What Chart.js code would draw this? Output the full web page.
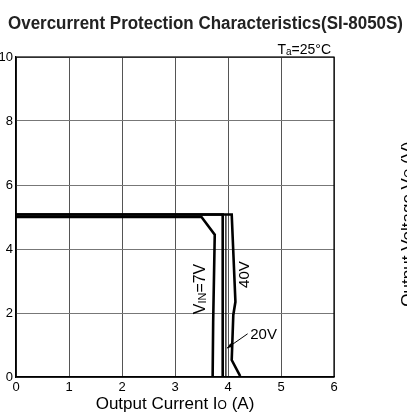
<!DOCTYPE html>
<html lang="en">
<head>
    <meta charset="UTF-8">
    <title>Overcurrent Protection Characteristics</title>
    <script src="https://cdn.jsdelivr.net/npm/chart.js"></script>
    <style>
        body { margin: 0; background: #fff; }
        #wrap { width: 407px; height: 418px; }
    </style>
</head>
<body>
    <div id="wrap"><canvas id="myChart" width="407" height="418"></canvas></div>
<script>
    // tick labels
    var xTickValues = [0, 1, 2, 3, 4, 5, 6];
    var yTickValues = [0, 2, 4, 6, 8, 10];

    // VIN = 7V
    var vin7Current = [0, 3.5, 3.75, 3.72, 3.71];
    var vin7Voltage = [5.0, 5.0, 4.45, 1.7, 0];

    // VIN = 20V
    var vin20Current = [0, 3.9, 3.9];
    var vin20Voltage = [5.08, 5.08, 0];

    // thin trace next to 20V
    var thinCurrent = [3.96, 3.96];
    var thinVoltage = [5.08, 0];

    // VIN = 40V
    var vin40Current = [0, 4.07, 4.14, 4.1, 4.08, 4.07, 4.23];
    var vin40Voltage = [5.08, 5.08, 2.35, 1.94, 1.0, 0.53, 0.03];

    function pontos(xs, ys) {
        var lista = [];
        for (var i = 0; i < xs.length; i++) {
            lista.push({ x: xs[i], y: ys[i] });
        }
        return lista;
    }

    function serie(nome, xs, ys, largura) {
        return {
            label: nome,
            data: pontos(xs, ys),
            borderColor: '#000',
            borderWidth: largura,
            pointRadius: 0,
            tension: 0,
            fill: false
        };
    }

    var FONTE = '"Liberation Sans", Arial, sans-serif';

    // text with a smaller "subscript" part
    function textoComIndice(ctx, partes, x, y, alinhar) {
        var total = 0;
        partes.forEach(function (p) {
            ctx.font = p.size + 'px ' + FONTE;
            p.w = ctx.measureText(p.t).width;
            total += p.w;
        });
        var inicio = x;
        if (alinhar == 'center') inicio = x - total / 2;
        if (alinhar == 'right') inicio = x - total;
        ctx.textAlign = 'left';
        partes.forEach(function (p) {
            ctx.font = p.size + 'px ' + FONTE;
            ctx.fillText(p.t, inicio, y + (p.dy || 0));
            inicio += p.w;
        });
    }

    var extras = {
        id: 'extras',
        afterDraw: function (chart) {
            var ctx = chart.ctx;
            var a = chart.chartArea;
            var sx = chart.scales.x;
            var sy = chart.scales.y;
            ctx.save();
            ctx.fillStyle = '#000';
            ctx.textBaseline = 'alphabetic';

            // frame
            ctx.strokeStyle = '#000';
            ctx.lineWidth = 1.2;
            ctx.strokeRect(a.left, a.top, a.right - a.left, a.bottom - a.top);

            // title
            ctx.font = 'bold 18px ' + FONTE;
            var titulo = 'Overcurrent Protection Characteristics(SI-8050S)';
            var w = ctx.measureText(titulo).width;
            ctx.save();
            ctx.translate(8, 29);
            ctx.scale(395 / w, 1);
            ctx.textAlign = 'left';
            ctx.fillStyle = '#222';
            ctx.fillText(titulo, 0, 0);
            ctx.restore();

            // Ta=25°C
            textoComIndice(ctx, [
                { t: 'T', size: 14 },
                { t: 'a', size: 10, dy: 1 },
                { t: '=25°C', size: 14 }
            ], 331, 54, 'right');

            // x axis title
            textoComIndice(ctx, [
                { t: 'Output Current I', size: 17 },
                { t: 'O', size: 12 },
                { t: ' (A)', size: 17 }
            ], (a.left + a.right) / 2, 409, 'center');

            // y axis title (right side, clipped by the canvas edge)
            ctx.save();
            ctx.translate(413, 224);
            ctx.rotate(-Math.PI / 2);
            textoComIndice(ctx, [
                { t: 'Output Voltage V', size: 17 },
                { t: 'O', size: 12 },
                { t: ' (V)', size: 17 }
            ], 0, 0, 'center');
            ctx.restore();

            // VIN=7V
            ctx.save();
            ctx.translate(sx.getPixelForValue(3.56), sy.getPixelForValue(2.75));
            ctx.rotate(-Math.PI / 2);
            textoComIndice(ctx, [
                { t: 'V', size: 16 },
                { t: 'IN', size: 11, dy: 1 },
                { t: '=7V', size: 16 }
            ], 0, 0, 'center');
            ctx.restore();

            // 40V
            ctx.save();
            ctx.translate(sx.getPixelForValue(4.39), sy.getPixelForValue(3.2));
            ctx.rotate(-Math.PI / 2);
            textoComIndice(ctx, [{ t: '40V', size: 15 }], 0, 0, 'center');
            ctx.restore();

            // 20V with arrow
            textoComIndice(ctx, [{ t: '20V', size: 15 }], sx.getPixelForValue(4.42), sy.getPixelForValue(1.2), 'left');
            var x1 = sx.getPixelForValue(4.37), y1 = sy.getPixelForValue(1.35);
            var x2 = sx.getPixelForValue(3.98), y2 = sy.getPixelForValue(0.9);
            ctx.strokeStyle = '#000';
            ctx.lineWidth = 1;
            ctx.beginPath();
            ctx.moveTo(x1, y1);
            ctx.lineTo(x2, y2);
            ctx.stroke();
            var ang = Math.atan2(y2 - y1, x2 - x1);
            ctx.beginPath();
            ctx.moveTo(x2, y2);
            ctx.lineTo(x2 - 6 * Math.cos(ang - 0.35), y2 - 6 * Math.sin(ang - 0.35));
            ctx.lineTo(x2 - 6 * Math.cos(ang + 0.35), y2 - 6 * Math.sin(ang + 0.35));
            ctx.closePath();
            ctx.fill();

            ctx.restore();
        }
    };

    Chart.defaults.font.family = FONTE;
    Chart.defaults.color = '#000';

    var config = {
        type: 'line',
        data: {
            datasets: [
                serie('VIN=7V', vin7Current, vin7Voltage, 2.6),
                serie('20V', vin20Current, vin20Voltage, 2.6),
                serie('', thinCurrent, thinVoltage, 1.2),
                serie('40V', vin40Current, vin40Voltage, 2.6)
            ]
        },
        options: {
            responsive: false,
            animation: false,
            layout: { padding: { top: 57, right: 73, left: 0, bottom: 0 } },
            plugins: {
                legend: { display: false },
                title: { display: false },
                tooltip: { enabled: false }
            },
            scales: {
                x: {
                    type: 'linear',
                    min: 0,
                    max: 6,
                    afterBuildTicks: function (s) {
                        s.ticks = xTickValues.map(function (v) { return { value: v }; });
                    },
                    afterFit: function (s) { s.height = 41; },
                    ticks: { font: { size: 13 }, padding: 3, maxRotation: 0 },
                    grid: { color: '#555', lineWidth: 1, drawTicks: false },
                    border: { color: '#000', width: 1.2 }
                },
                y: {
                    type: 'linear',
                    min: 0,
                    max: 10,
                    afterBuildTicks: function (s) {
                        s.ticks = yTickValues.map(function (v) { return { value: v }; });
                    },
                    afterFit: function (s) { s.width = 16; },
                    ticks: { font: { size: 13 }, padding: 3 },
                    grid: { color: '#777', lineWidth: 1, drawTicks: false },
                    border: { color: '#000', width: 1.2 }
                }
            }
        },
        plugins: [extras]
    };

    var myChart = new Chart(document.getElementById('myChart'), config);
</script>
</body>
</html>
